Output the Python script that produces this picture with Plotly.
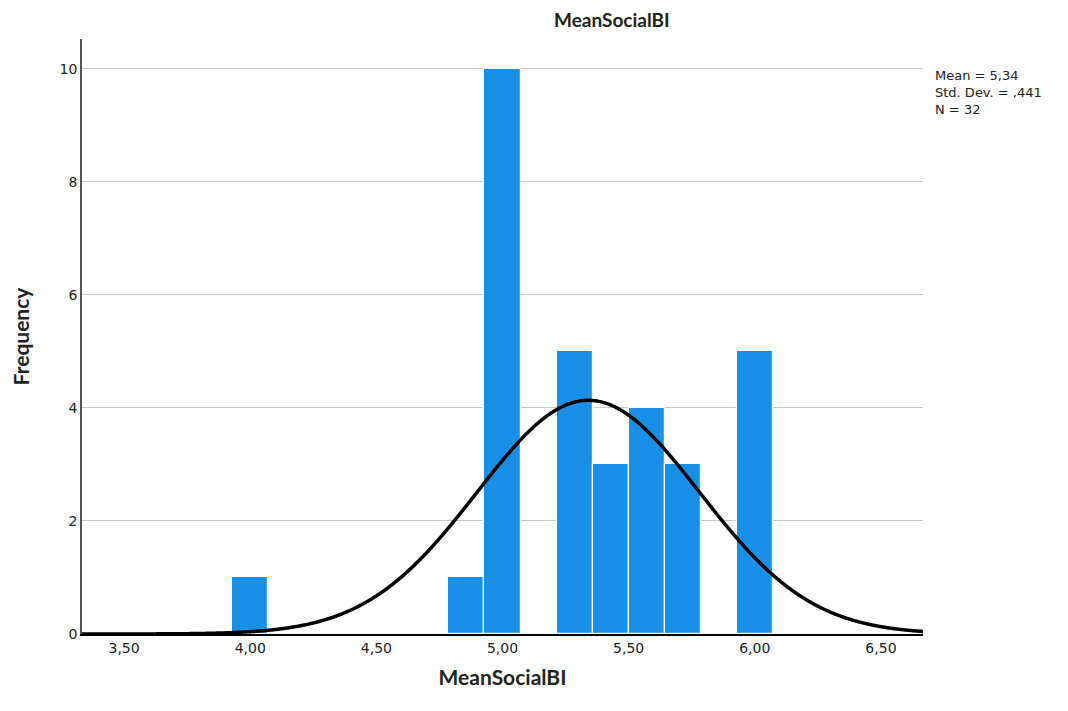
import numpy as np
import plotly.graph_objects as go

# Data
bin_centers = [4.0, 4.857, 5.0, 5.286, 5.429, 5.571, 5.714, 6.0]
frequencies = [1, 1, 10, 5, 3, 4, 3, 5]
bin_width = 1 / 7
mean_val = 5.34
sd_val = 0.441
n_val = 32
x_tickvals = [3.5, 4.0, 4.5, 5.0, 5.5, 6.0, 6.5]
x_ticktext = ["3,50", "4,00", "4,50", "5,00", "5,50", "6,00", "6,50"]
y_tickvals = [0, 2, 4, 6, 8, 10]

x_range = [3.3333, 6.6667]
xs = np.linspace(x_range[0], x_range[1], 800)
ys = n_val * bin_width * np.exp(-0.5 * ((xs - mean_val) / sd_val) ** 2) / (sd_val * np.sqrt(2 * np.pi))

fig = go.Figure()
fig.add_trace(go.Bar(
    x=bin_centers, y=frequencies, width=bin_width,
    marker=dict(color="#1a8fe6", line=dict(color="white", width=1.2)),
    hoverinfo="skip",
))
fig.add_trace(go.Scatter(
    x=xs, y=ys, mode="lines",
    line=dict(color="black", width=3.5, shape="spline"),
    hoverinfo="skip", cliponaxis=False,
))

fig.update_layout(
    width=1068, height=711,
    margin=dict(l=82, r=145, t=39, b=77),
    paper_bgcolor="white", plot_bgcolor="white",
    showlegend=False,
    bargap=0,
    font=dict(family="DejaVu Sans", size=12, color="#222"),
)
fig.update_xaxes(
    range=x_range, tickvals=x_tickvals, ticktext=x_ticktext,
    showgrid=False, zeroline=False,
    showline=True, linecolor="black", linewidth=2,
    ticks="", tickfont=dict(size=14, color="#222"),
    title=dict(text="<b>MeanSocialBI</b>", font=dict(family="Lato", size=21, color="#222"), standoff=16),
)
fig.update_yaxes(
    range=[0, 10.53], tickvals=y_tickvals,
    showgrid=True, gridcolor="#c8c8c8", gridwidth=1.2,
    zeroline=False,
    showline=True, linecolor="#555", linewidth=1.5,
    ticks="", tickfont=dict(size=14, color="#222"),
    title=dict(text="<b>Frequency</b>", font=dict(family="Lato", size=21, color="#222"), standoff=24),
)

fig.add_annotation(
    text="<b>MeanSocialBI</b>", xref="paper", yref="paper",
    x=(612 - 82) / (923 - 82), y=1, yshift=20, showarrow=False,
    font=dict(family="Lato", size=19, color="#222"),
    xanchor="center", yanchor="middle",
)
fig.add_annotation(
    text="Mean = 5,34<br>Std. Dev. = ,441<br>N = 32",
    xref="paper", yref="paper",
    x=1, xshift=10, y=(634 - 66) / (634 - 39),
    showarrow=False, align="left", xanchor="left", yanchor="top",
    font=dict(family="DejaVu Sans", size=13, color="#222"),
)

fig.write_html("out.html")
